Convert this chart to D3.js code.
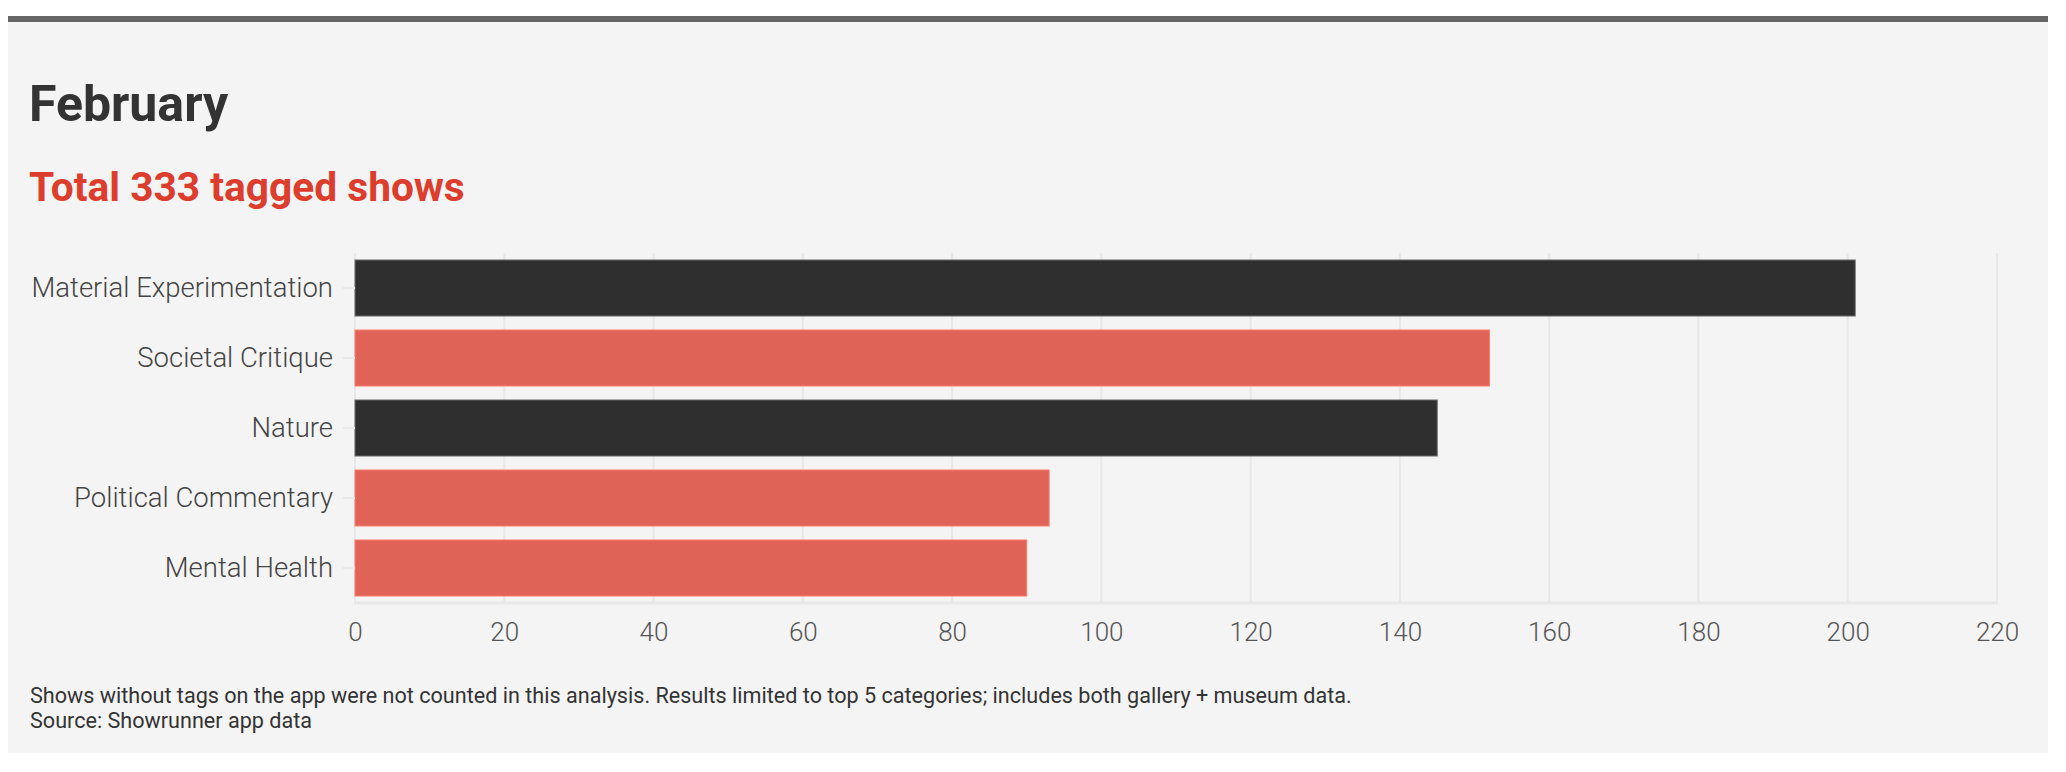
<!DOCTYPE html>
<html>
<head>
<meta charset="utf-8">
<script src="https://cdn.jsdelivr.net/npm/d3@7"></script>
<style>
  html, body { margin: 0; padding: 0; background: #fff; }
  svg { display: block; font-family: Roboto, "Noto Sans", sans-serif; }
</style>
</head>
<body>
<div id="chart"></div>
<script>
// Datos
const categories = ['Material Experimentation', 'Societal Critique', 'Nature', 'Political Commentary', 'Mental Health'];
const showCounts = [201, 152, 145, 93, 90];
const barColors = ['#2f2f2f', '#e06357', '#2f2f2f', '#e06357', '#e06357'];
const xTicks = [0, 20, 40, 60, 80, 100, 120, 140, 160, 180, 200, 220];
const title = 'February';
const subtitle = 'Total 333 tagged shows';
const notes = [
    'Shows without tags on the app were not counted in this analysis. Results limited to top 5 categories; includes both gallery + museum data.',
    'Source: Showrunner app data'
];

const width = 2066;
const height = 772;
const plot = { left: 355, right: 1997, top: 253, bottom: 603 };

const svg = d3.select('#chart')
    .append('svg')
    .attr('width', width)
    .attr('height', height);

// Panel de fondo y barra superior
svg.append('rect')
    .attr('x', 8).attr('y', 16)
    .attr('width', 2040).attr('height', 737)
    .attr('fill', '#f4f4f4');
svg.append('rect')
    .attr('x', 8).attr('y', 16)
    .attr('width', 2040).attr('height', 6)
    .attr('fill', '#666');

svg.append('text')
    .attr('x', 29).attr('y', 121)
    .attr('fill', '#333')
    .style('font-weight', 700)
    .style('font-size', '50px')
    .text(title);

svg.append('text')
    .attr('x', 29).attr('y', 201)
    .attr('fill', '#dc3d2c')
    .style('font-weight', 700)
    .style('font-size', '40.7px')
    .text(subtitle);

const x = d3.scaleLinear()
    .domain([0, 220])
    .range([plot.left, plot.right]);

const y = d3.scaleBand()
    .domain(categories)
    .range([plot.top, plot.bottom])
    .paddingInner(0.2)
    .paddingOuter(0.1);

// Rejilla
svg.append('g')
    .selectAll('line')
    .data(xTicks)
    .join('line')
    .attr('x1', d => x(d)).attr('x2', d => x(d))
    .attr('y1', plot.top).attr('y2', plot.bottom)
    .attr('stroke', '#e8e8e8')
    .attr('stroke-width', 2);

svg.append('line')
    .attr('x1', plot.left - 1).attr('x2', plot.right + 1)
    .attr('y1', plot.bottom).attr('y2', plot.bottom)
    .attr('stroke', '#e8e8e8')
    .attr('stroke-width', 3);

// Barras
const rows = categories.map((c, i) => ({ name: c, value: showCounts[i], color: barColors[i] }));

svg.append('g')
    .selectAll('rect')
    .data(rows)
    .join('rect')
    .attr('x', x(0))
    .attr('y', d => y(d.name))
    .attr('width', d => x(d.value) - x(0))
    .attr('height', y.bandwidth())
    .attr('fill', d => d.color)
    .attr('stroke', d => d3.color(d.color).brighter(d.color === '#2f2f2f' ? 2.2 : 0.6))
    .attr('stroke-width', 1);

// Ejes
const xAxis = svg.append('g')
    .attr('transform', `translate(0,${plot.bottom})`)
    .call(d3.axisBottom(x).tickValues(xTicks).tickSize(0).tickPadding(20));
xAxis.select('.domain').remove();
xAxis.selectAll('text')
    .attr('fill', '#555')
    .style('font-size', '26px')
    .style('font-weight', 300)
    .style('font-family', 'Roboto, sans-serif');

const yAxis = svg.append('g')
    .attr('transform', `translate(${plot.left},0)`)
    .call(d3.axisLeft(y).tickSize(12).tickPadding(10));
yAxis.select('.domain').remove();
yAxis.selectAll('line').attr('stroke', '#e8e8e8').attr('stroke-width', 2);
yAxis.selectAll('text')
    .attr('fill', '#444')
    .style('font-size', '27.5px')
    .style('font-weight', 300)
    .style('font-family', 'Roboto, sans-serif');

// Notas al pie
svg.append('g')
    .selectAll('text')
    .data(notes)
    .join('text')
    .attr('x', 30)
    .attr('y', (d, i) => 703 + i * 25)
    .attr('fill', '#333')
    .style('font-size', '21.6px')
    .text(d => d);
</script>
</body>
</html>
